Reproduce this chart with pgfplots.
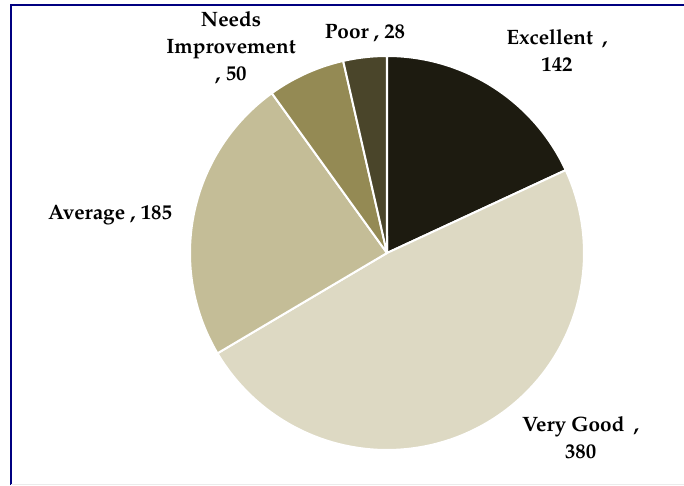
\documentclass[border=0pt]{standalone}
\usepackage[T1]{fontenc}
\usepackage{mathpazo}
\usepackage{pgfplots}
\usepackage{pgfplotstable}
\pgfplotsset{compat=1.18}

\definecolor{cExc}{HTML}{1D1B10}
\definecolor{cVG}{HTML}{DDD9C3}
\definecolor{cAvg}{HTML}{C4BD97}
\definecolor{cNI}{HTML}{948A54}
\definecolor{cPoor}{HTML}{4A452A}
\definecolor{frame}{HTML}{000080}

% ratings, clockwise from 12 o'clock
\pgfplotstableread{
label value
Excellent 142
VeryGood 380
Average 185
Needs 50
Poor 28
}\ratings

\begin{document}
\begin{tikzpicture}
\path[use as bounding box] (0pt,0pt) rectangle (684pt,485pt);
\draw[frame, line width=2pt] (11pt,0pt) -- (11pt,480pt) -- (685pt,480pt);
\draw[black!8, line width=0.6pt] (11pt,1pt) -- (684pt,1pt);

\pgfplotstablegetelem{0}{value}\of\ratings \let\vA\pgfplotsretval
\pgfplotstablegetelem{1}{value}\of\ratings \let\vB\pgfplotsretval
\pgfplotstablegetelem{2}{value}\of\ratings \let\vC\pgfplotsretval
\pgfplotstablegetelem{3}{value}\of\ratings \let\vD\pgfplotsretval
\pgfplotstablegetelem{4}{value}\of\ratings \let\vE\pgfplotsretval
\pgfmathsetmacro\total{\vA+\vB+\vC+\vD+\vE}
\pgfmathsetmacro\aA{90}
\pgfmathsetmacro\aB{\aA-360*(\vA/\total)}
\pgfmathsetmacro\aC{\aB-360*(\vB/\total)}
\pgfmathsetmacro\aD{\aC-360*(\vC/\total)}
\pgfmathsetmacro\aE{\aD-360*(\vD/\total)}
\pgfmathsetmacro\aF{\aE-360*(\vE/\total)}

\begin{axis}[
    hide axis,
    scale only axis,
    width=394pt, height=394pt,
    xmin=-1, xmax=1, ymin=-1, ymax=1,
    at={(190pt,35pt)}, anchor=south west,
    clip=false,
    every axis plot/.append style={draw=white, line width=2pt, line join=round, samples=90, variable=\t},
    nodes={font=\bfseries\fontsize{20.8}{27}\selectfont, align=center},
]
\addplot[fill=cExc, domain=\aB:\aA] ({cos(\t)},{sin(\t)}) -- (axis cs:0,0) -- cycle;
\addplot[fill=cVG, domain=\aC:\aB] ({cos(\t)},{sin(\t)}) -- (axis cs:0,0) -- cycle;
\addplot[fill=cAvg, domain=\aD:\aC] ({cos(\t)},{sin(\t)}) -- (axis cs:0,0) -- cycle;
\addplot[fill=cNI, domain=\aE:\aD] ({cos(\t)},{sin(\t)}) -- (axis cs:0,0) -- cycle;
\addplot[fill=cPoor, domain=\aF:\aE] ({cos(\t)},{sin(\t)}) -- (axis cs:0,0) -- cycle;

\node at (axis cs:0.863,1.025) {Excellent\hspace{0.45em},\\142};
\node at (axis cs:0.983,-0.939) {Very Good\hspace{0.45em},\\380};
\node at (axis cs:-1.406,0.193) {Average , 185};
\node at (axis cs:-0.792,1.040) {Needs\\Improvement\\, 50};
\node at (axis cs:-0.112,1.117) {Poor , 28};
\end{axis}
\end{tikzpicture}
\end{document}
